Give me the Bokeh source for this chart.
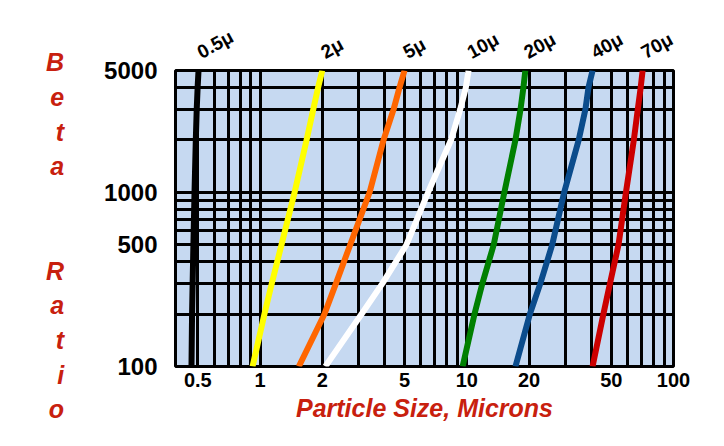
import json
import math
from bokeh.plotting import figure
from bokeh.models import Range1d, FixedTicker, CustomJSTickFormatter, LogAxis
from bokeh.embed import file_html
from bokeh.resources import INLINE

# ---- data ----
beta = [100, 200, 300, 500, 1000, 2000, 3000, 4000, 5000]
size_0_5u = [0.466, 0.469, 0.472, 0.476, 0.482, 0.489, 0.494, 0.499, 0.504]
size_2u = [0.92, 1.05, 1.14, 1.27, 1.47, 1.68, 1.81, 1.91, 2.00]
size_5u = [1.54, 2.05, 2.33, 2.73, 3.39, 3.96, 4.43, 4.73, 5.00]
size_10u = [2.07, 3.10, 3.91, 5.11, 6.50, 8.40, 9.30, 9.90, 10.2]
size_20u = [9.55, 10.9, 11.9, 13.5, 15.2, 17.2, 18.2, 18.8, 19.2]
size_40u = [17.2, 20.2, 22.7, 25.9, 29.6, 34.8, 37.5, 38.8, 40.6]
size_70u = [40.6, 45.8, 49.3, 54.2, 58.9, 64.3, 67.2, 69.4, 70.9]

curve_names = ["0.5\u03bc", "2\u03bc", "5\u03bc", "10\u03bc", "20\u03bc", "40\u03bc", "70\u03bc"]
curves = [size_0_5u, size_2u, size_5u, size_10u, size_20u, size_40u, size_70u]

x_tick_values = [0.5, 1, 2, 5, 10, 20, 50, 100]
y_tick_values = [100, 500, 1000, 5000]
x_grid_values = [0.5, 0.6, 0.7, 0.8, 0.9, 1, 2, 3, 4, 5, 6, 7, 8, 9, 10,
                 20, 30, 40, 50, 60, 70, 80, 90, 100]
y_grid_values = [100, 200, 300, 400, 500, 600, 700, 800, 900, 1000,
                 2000, 3000, 4000, 5000]

x_title = "Particle Size, Microns"
y_title_lines = ["\u00a0", "B", "e", "t", "a", "\u00a0", "\u00a0", "R", "a", "t", "i", "o"]

# ---- styles / layout ----
curve_colors = ["#000000", "#ffff00", "#ff6600", "#ffffff", "#008000", "#0b4c8c", "#cc0000"]
RED = "#c8200e"
FONT = "Liberation Sans"

p = figure(width=724, height=446, x_axis_type="log", y_axis_type="log",
           x_range=Range1d(0.39, 100), y_range=Range1d(100, 5000),
           output_backend="svg", toolbar_location=None, title=None,
           min_border_left=175, min_border_right=51, min_border_top=70,
           min_border_bottom=80)

p.background_fill_color = "#c6d9f1"
p.border_fill_color = "white"
p.outline_line_color = "black"
p.outline_line_width = 3

p.xgrid.ticker = FixedTicker(ticks=x_grid_values)
p.ygrid.ticker = FixedTicker(ticks=y_grid_values)
for g in (p.xgrid, p.ygrid):
    g.grid_line_color = "black"
    g.grid_line_width = 3
    g.grid_line_alpha = 1.0
    g.minor_grid_line_color = None

bottom_axis = p.below[0]
left_axis = p.left[0]

# curve name axis above the frame: ticks at each curve's top end
tops = [c[-1] for c in curves]
name_code = (
    "const t = " + json.dumps(tops) + "; const n = " + json.dumps(curve_names) + ";"
    " let b = 0; for (let i = 0; i < t.length; i++) {"
    " if (Math.abs(t[i] - tick) < Math.abs(t[b] - tick)) b = i; } return n[b];"
)
top_axis = LogAxis(ticker=FixedTicker(ticks=tops),
                   formatter=CustomJSTickFormatter(code=name_code))
p.add_layout(top_axis, "above")

fmt = "return tick.toString();"
bottom_axis.ticker = FixedTicker(ticks=x_tick_values)
left_axis.ticker = FixedTicker(ticks=y_tick_values)
bottom_axis.formatter = CustomJSTickFormatter(code=fmt)
left_axis.formatter = CustomJSTickFormatter(code=fmt)
for ax in (bottom_axis, left_axis, top_axis):
    ax.axis_line_color = None
    ax.major_tick_line_color = None
    ax.minor_tick_line_color = None
    ax.major_tick_in = 0
    ax.major_tick_out = 0
    ax.minor_tick_in = 0
    ax.minor_tick_out = 0
    ax.major_label_text_font = FONT
    ax.major_label_text_font_style = "bold"
    ax.major_label_text_color = "black"

top_axis.major_label_text_font_size = "19px"
top_axis.major_label_orientation = math.radians(29)
top_axis.major_label_standoff = 17

bottom_axis.major_label_text_font_size = "20px"
bottom_axis.major_label_standoff = 6
bottom_axis.axis_label = x_title
bottom_axis.axis_label_text_font = FONT
bottom_axis.axis_label_text_font_style = "bold italic"
bottom_axis.axis_label_text_font_size = "25px"
bottom_axis.axis_label_text_color = RED
bottom_axis.axis_label_standoff = 4

left_axis.major_label_text_font_size = "24px"
left_axis.major_label_standoff = 18
left_axis.axis_label = "\n".join(y_title_lines)
left_axis.axis_label_orientation = "horizontal"
left_axis.axis_label_text_font = FONT
left_axis.axis_label_text_font_style = "bold italic"
left_axis.axis_label_text_font_size = "25px"
left_axis.axis_label_text_color = RED
left_axis.axis_label_text_line_height = 1.24
left_axis.axis_label_standoff = 37

for xs, col in zip(curves, curve_colors):
    p.line(x=xs, y=beta, line_color=col, line_width=6, line_join="round")

open("out.html", "w").write(file_html(p, INLINE))
